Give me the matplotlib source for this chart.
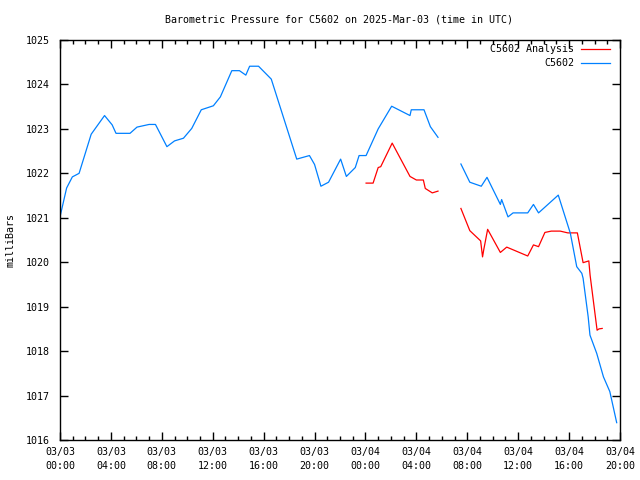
import numpy as np
import matplotlib
matplotlib.use("Agg")
import matplotlib.pyplot as plt
from matplotlib.ticker import MultipleLocator

# hours since 2025-03-03 00:00 UTC
blue_hours = [0, 0.52, 0.97, 1.5, 2.45, 3.5, 4.1, 4.4, 5.5, 6.05, 7.0, 7.5, 8.4, 9.0, 9.7,
              10.35, 11.1, 12.05, 12.6, 13.5, 14.1, 14.6, 14.9, 15.6, 16.6, 18.6, 19.6, 20.0,
              20.5, 21.1, 22.05, 22.5, 23.2, 23.5, 24.05, 25.0, 26.06, 27.5, 27.6, 28.6, 29.1,
              29.7, 30.6, 31.5, 32.2, 33.1, 33.55, 34.6, 34.7, 35.2, 35.6, 36.75, 37.2, 37.6,
              39.15, 40.1, 40.6, 41.0, 41.1, 41.5, 41.64, 42.17, 42.7, 43.2, 43.74]
blue_vals = [1021.02, 1021.67, 1021.92, 1022.0, 1022.88, 1023.3, 1023.09, 1022.9, 1022.9,
             1023.04, 1023.1, 1023.1, 1022.6, 1022.73, 1022.79, 1023.01, 1023.43, 1023.52,
             1023.72, 1024.31, 1024.31, 1024.21, 1024.41, 1024.41, 1024.12, 1022.32, 1022.4,
             1022.2, 1021.71, 1021.8, 1022.32, 1021.93, 1022.13, 1022.4, 1022.4, 1023.0,
             1023.51, 1023.3, 1023.43, 1023.43, 1023.05, 1022.81, np.nan, 1022.21, 1021.8,
             1021.71, 1021.91, 1021.3, 1021.41, 1021.02, 1021.11, 1021.11, 1021.3, 1021.11,
             1021.51, 1020.65, 1019.9, 1019.75, 1019.64, 1018.77, 1018.36, 1017.95, 1017.42,
             1017.09, 1016.39]

red_hours = [24.05, 24.6, 25.0, 25.2, 26.1, 27.5, 28.0, 28.55, 28.7, 29.25, 29.7, 30.6,
             31.5, 32.2, 33.05, 33.2, 33.3, 33.6, 34.6, 35.1, 36.75, 37.2, 37.6, 38.1, 38.6,
             39.3, 39.9, 40.65, 41.1, 41.55, 41.65, 42.2, 42.35, 42.6]
red_vals = [1021.78, 1021.78, 1022.13, 1022.15, 1022.68, 1021.93, 1021.85, 1021.85, 1021.66,
            1021.56, 1021.6, np.nan, 1021.21, 1020.71, 1020.48, 1020.12, 1020.29, 1020.74,
            1020.22, 1020.34, 1020.14, 1020.39, 1020.35, 1020.67, 1020.7, 1020.7, 1020.66,
            1020.66, 1019.99, 1020.03, 1019.71, 1018.47, 1018.5, 1018.51]

xtick_hours = [0, 4, 8, 12, 16, 20, 24, 28, 32, 36, 40, 44]
xtick_labels = ["03/03\n00:00", "03/03\n04:00", "03/03\n08:00", "03/03\n12:00",
                "03/03\n16:00", "03/03\n20:00", "03/04\n00:00", "03/04\n04:00",
                "03/04\n08:00", "03/04\n12:00", "03/04\n16:00", "03/04\n20:00"]
ytick_vals = list(range(1016, 1026))

title = "Barometric Pressure for C5602 on 2025-Mar-03 (time in UTC)"
series_labels = ["C5602 Analysis", "C5602"]
RED = "#ff0000"
BLUE = "#0080ff"

plt.rcParams['font.family'] = ['DejaVu Sans Mono']
fs = 7.2

fig = plt.figure(figsize=(6.4, 4.8), dpi=100)
ax = fig.add_axes([60/640, 40/480, 560/640, 400/480])

ax.plot(red_hours, red_vals, color=RED, lw=0.9)
ax.plot(blue_hours, blue_vals, color=BLUE, lw=0.9)

ax.set_xlim(0, 44)
ax.set_ylim(1016, 1025)
ax.set_xticks(xtick_hours)
ax.set_xticklabels(xtick_labels, fontsize=fs, linespacing=1.5)
ax.set_yticks(ytick_vals)
ax.set_yticklabels([str(v) for v in ytick_vals], fontsize=fs)
ax.xaxis.set_minor_locator(MultipleLocator(1))
ax.tick_params(which='both', direction='in', top=True, right=True, width=1, colors='black')
ax.tick_params(which='major', length=6, pad=5)
ax.tick_params(which='minor', length=3)
ax.tick_params(axis='y', which='major', pad=7)
for s in ax.spines.values():
    s.set_linewidth(1)

fig.text(11/640, 0.5, "milliBars", rotation=90, ha='center', va='center', fontsize=fs)
fig.text(339/640, 1 - 19/480, title, ha='center', va='center', fontsize=fs)

# key (top right, gnuplot style)
for i, (lab, col) in enumerate(zip(series_labels, [RED, BLUE])):
    yk = (440 - (49 + 14 * i)) / 400
    ax.text(0.918, yk, lab, transform=ax.transAxes, ha='right', va='center', fontsize=fs)
    ax.plot([0.9304, 0.982], [yk, yk], transform=ax.transAxes, color=col, lw=0.9, clip_on=False)

fig.savefig("out.png", dpi=100)
